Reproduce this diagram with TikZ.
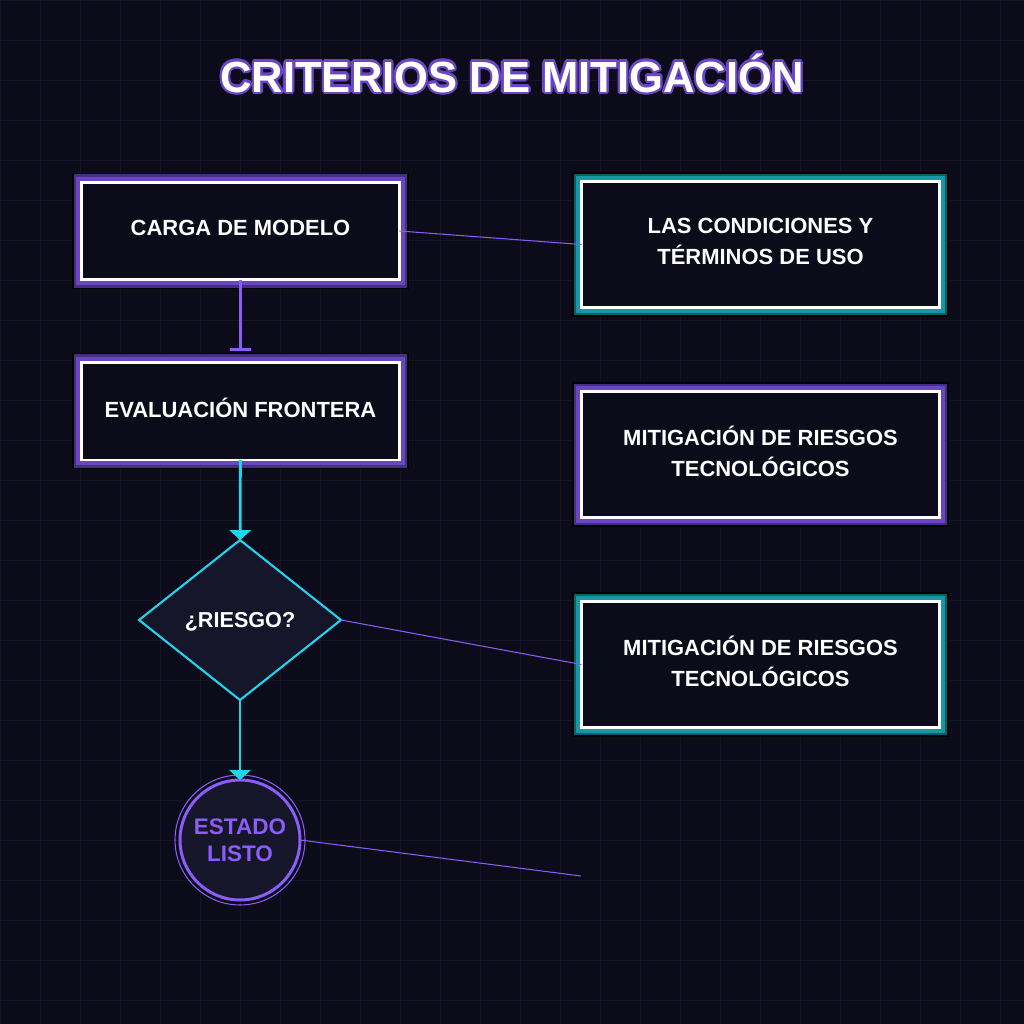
\documentclass[tikz,border=0pt]{standalone}
\usepackage{fontspec}
\setmainfont{Liberation Sans}
\usepackage{contour}
\usepackage{tikz}
\usetikzlibrary{arrows.meta,shapes.geometric}
\definecolor{bgnight}{HTML}{0B0B1A}
\definecolor{gridline}{HTML}{15152A}
\definecolor{cellfill}{HTML}{16162A}
\definecolor{violetline}{HTML}{8B5CF6}
\definecolor{violetglow}{HTML}{6A45C4}
\definecolor{violetdark}{HTML}{45307F}
\definecolor{cyanline}{HTML}{22D3EE}
\definecolor{tealglow}{HTML}{1597A8}
\definecolor{tealdark}{HTML}{0B5F68}
\contourlength{1.3pt}
\contournumber{16}
\tikzset{
  modbox/.style={rectangle,draw=white,line width=1.7pt,fill=bgnight,text=white,align=center,
    outer sep=0pt,inner sep=0pt,minimum width=6.36cm,minimum height=1.96cm,text depth=4pt,
    font=\bfseries\fontsize{12.5}{17.6}\selectfont,
    preaction={draw=black,line width=10.8pt},
    preaction={draw=violetdark,line width=8.6pt},
    preaction={draw=violetglow,line width=6.2pt}},
  tealbox/.style={modbox,minimum width=7.16cm,minimum height=2.52cm,
    preaction={draw=black,line width=10.8pt},
    preaction={draw=tealdark,line width=8.6pt},
    preaction={draw=tealglow,line width=6.2pt}},
  purplebox/.style={tealbox,
    preaction={draw=black,line width=10.8pt},
    preaction={draw=violetdark,line width=8.6pt},
    preaction={draw=violetglow,line width=6.2pt}},
  decide/.style={diamond,draw=cyanline,line width=1.2pt,fill=cellfill,text=white,
    outer sep=0pt,inner sep=0pt,minimum width=4.04cm,minimum height=3.2cm,text depth=0pt,
    font=\bfseries\fontsize{12.3}{15}\selectfont},
  endstate/.style={circle,draw=violetline,line width=1.7pt,fill=cellfill,text=violetline,
    align=center,outer sep=0pt,inner sep=0pt,minimum size=2.4cm,
    font=\bfseries\fontsize{12.8}{15.3}\selectfont},
  baredge/.style={draw=violetline,line width=1.6pt,-{Bar[width=0.42cm,line width=1.2pt]},shorten >=0.23cm},
  edge/.style={draw=cyanline,line width=1.6pt,-{Triangle[width=0.42cm,length=0.2cm]}},
  thinedge/.style={draw=violetline,line width=0.6pt}
}

\begin{document}
\begin{tikzpicture}[x=0.02cm,y=-0.02cm]
  \fill[bgnight] (0,0) rectangle (1024,1024);
  \useasboundingbox (0,0) rectangle (1024,1024);
  \foreach \g in {0,40,...,1000} {
    \draw[gridline,line width=0.5pt] (\g,0) -- (\g,1024);
    \draw[gridline,line width=0.5pt] (0,\g) -- (1024,\g);
  }

  \node[anchor=base,text=white,font=\bfseries\fontsize{24.8}{30}\selectfont] (titulo) at (512,92)
    {\contour{violetglow}{CRITERIOS DE MITIGACIÓN}};

  \node[modbox] (carga) at (240.5,231) {CARGA DE MODELO};
  \node[modbox] (evalua) at (240.5,411) {EVALUACIÓN FRONTERA};
  \node[decide] (riesgo) at (240,620) {¿RIESGO?};
  \node[endstate] (listo) at (240,840) {ESTADO\\LISTO};
  \draw[violetline,line width=0.6pt] (listo) circle[radius=1.3cm];

  \node[tealbox] (condic) at (760.5,244.5) {LAS CONDICIONES Y\\TÉRMINOS DE USO};
  \node[purplebox] (mitiga) at (760.5,454.5) {MITIGACIÓN DE RIESGOS\\TECNOLÓGICOS};
  \node[tealbox] (mitigb) at (760.5,664.5) {MITIGACIÓN DE RIESGOS\\TECNOLÓGICOS};
  \coordinate (fin) at (581,876);

  \draw[baredge] (carga) -- (evalua);
  \draw[edge] (evalua) -- (riesgo);
  \draw[edge] (riesgo) -- (listo);
  \draw[thinedge] (carga.east) -- (condic.west);
  \draw[thinedge] (riesgo.east) -- (mitigb.west);
  \draw[thinedge] (listo.east) -- (fin);
\end{tikzpicture}
\end{document}
